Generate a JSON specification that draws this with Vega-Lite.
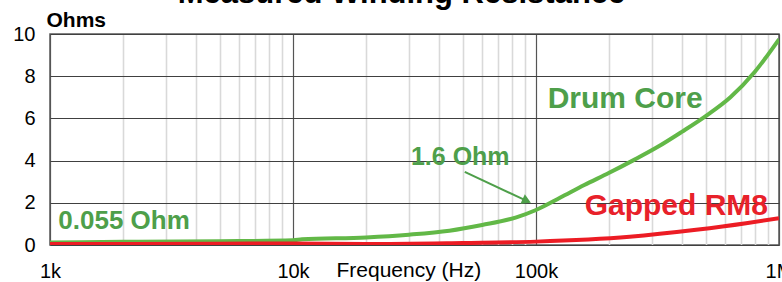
{
  "$schema": "https://vega.github.io/schema/vega-lite/v6.json",
  "width": 729,
  "height": 211,
  "autosize": {"type": "none"},
  "padding": {"left": 50, "top": 34, "right": 3, "bottom": 37},
  "background": "white",
  "config": {"view": {"stroke": "#595959", "strokeWidth": 1.5}, "font": "Liberation Sans"},
  "title": {"text": "Measured Winding Resistance", "fontSize": 31, "fontWeight": "bold", "font": "Liberation Sans", "color": "black", "anchor": "middle", "frame": "group", "offset": 0, "baseline": "alphabetic", "dx": -13, "dy": 25},
  "datasets": {
    "curves": [
      {"series": "Drum Core", "freq": 1000, "ohms": 0.12},
      {"series": "Drum Core", "freq": 2000, "ohms": 0.15},
      {"series": "Drum Core", "freq": 5000, "ohms": 0.18},
      {"series": "Drum Core", "freq": 10000, "ohms": 0.22},
      {"series": "Drum Core", "freq": 10900, "ohms": 0.27},
      {"series": "Drum Core", "freq": 20000, "ohms": 0.36},
      {"series": "Drum Core", "freq": 30000, "ohms": 0.49},
      {"series": "Drum Core", "freq": 44000, "ohms": 0.68},
      {"series": "Drum Core", "freq": 60000, "ohms": 0.95},
      {"series": "Drum Core", "freq": 83000, "ohms": 1.31},
      {"series": "Drum Core", "freq": 100000, "ohms": 1.66},
      {"series": "Drum Core", "freq": 126000, "ohms": 2.25},
      {"series": "Drum Core", "freq": 158000, "ohms": 2.84},
      {"series": "Drum Core", "freq": 200000, "ohms": 3.42},
      {"series": "Drum Core", "freq": 251000, "ohms": 4.01},
      {"series": "Drum Core", "freq": 316000, "ohms": 4.64},
      {"series": "Drum Core", "freq": 398000, "ohms": 5.36},
      {"series": "Drum Core", "freq": 501000, "ohms": 6.12},
      {"series": "Drum Core", "freq": 631000, "ohms": 7.0},
      {"series": "Drum Core", "freq": 794000, "ohms": 8.2},
      {"series": "Drum Core", "freq": 1000000, "ohms": 9.75},
      {"series": "Gapped RM8", "freq": 1000, "ohms": 0.05},
      {"series": "Gapped RM8", "freq": 5000, "ohms": 0.06},
      {"series": "Gapped RM8", "freq": 10000, "ohms": 0.07},
      {"series": "Gapped RM8", "freq": 20000, "ohms": 0.05},
      {"series": "Gapped RM8", "freq": 50000, "ohms": 0.1},
      {"series": "Gapped RM8", "freq": 100000, "ohms": 0.16},
      {"series": "Gapped RM8", "freq": 243000, "ohms": 0.39},
      {"series": "Gapped RM8", "freq": 456000, "ohms": 0.72},
      {"series": "Gapped RM8", "freq": 732000, "ohms": 1.03},
      {"series": "Gapped RM8", "freq": 1000000, "ohms": 1.27}
    ],
    "notes": [
      {"label": "Drum Core", "freq": 232800, "ohms": 6.48},
      {"label": "Gapped RM8", "freq": 378000, "ohms": 1.42},
      {"label": "0.055 Ohm", "freq": 1082, "ohms": 0.77},
      {"label": "1.6 Ohm", "freq": 48800, "ohms": 3.79}
    ],
    "arrow": [{"freq": 50900, "ohms": 3.47, "freq2": 91600, "ohms2": 2.09}],
    "arrowhead": [{"freq": 91600, "ohms": 2.09}]
  },
  "encoding": {
    "x": {
      "field": "freq", "type": "quantitative",
      "scale": {"type": "log", "domain": [1000, 1000000], "nice": false},
      "axis": {
        "values": [1000, 2000, 3000, 4000, 5000, 6000, 7000, 8000, 9000, 10000, 20000, 30000, 40000, 50000, 60000, 70000, 80000, 90000, 100000, 200000, 300000, 400000, 500000, 600000, 700000, 800000, 900000, 1000000],
        "labelExpr": "datum.value==1000?'1k':datum.value==10000?'10k':datum.value==100000?'100k':datum.value==1000000?'1M':''",
        "grid": true,
        "gridColor": {"condition": {"test": "indexof([1000,10000,100000,1000000], datum.value) >= 0", "value": "#555555"}, "value": "#d9d9d9"},
        "gridWidth": {"condition": {"test": "indexof([1000,10000,100000,1000000], datum.value) >= 0", "value": 1.2}, "value": 1.6},
        "ticks": false, "tickSize": 0, "domain": false,
        "labelFontSize": 20, "labelPadding": 16, "labelColor": "black", "labelFlush": false, "labelOverlap": false,
        "title": "Frequency (Hz)", "titleFontSize": 21, "titleFontWeight": "normal", "titleColor": "black",
        "titleX": 286, "titleY": 31.7, "titleAlign": "left", "titleBaseline": "alphabetic"
      }
    },
    "y": {
      "field": "ohms", "type": "quantitative",
      "scale": {"domain": [0, 10], "nice": false},
      "axis": {
        "values": [0, 2, 4, 6, 8, 10],
        "grid": true, "gridColor": "#404040", "gridWidth": 1.2,
        "ticks": false, "tickSize": 0, "domain": false,
        "labelFontSize": 20, "labelPadding": 15, "labelColor": "black",
        "title": "Ohms", "titleAngle": 0, "titleFontSize": 21, "titleFontWeight": "bold", "titleColor": "black",
        "titleX": -4, "titleY": -8, "titleAlign": "left", "titleBaseline": "alphabetic"
      }
    }
  },
  "layer": [
    {
      "data": {"name": "curves"},
      "mark": {"type": "line", "strokeWidth": 4, "interpolate": "monotone", "clip": true},
      "encoding": {
        "color": {"field": "series", "type": "nominal", "scale": {"domain": ["Drum Core", "Gapped RM8"], "range": ["#62b847", "#ec1c24"]}, "legend": null}
      }
    },
    {
      "data": {"name": "notes"},
      "transform": [{"filter": "datum.label == 'Drum Core'"}],
      "mark": {"type": "text", "text": "Drum Core", "fontSize": 30, "fontWeight": "bold", "color": "#4e9f4a", "align": "center", "baseline": "alphabetic"}
    },
    {
      "data": {"name": "notes"},
      "transform": [{"filter": "datum.label == 'Gapped RM8'"}],
      "mark": {"type": "text", "text": "Gapped RM8", "fontSize": 30, "fontWeight": "bold", "color": "#e8212a", "align": "center", "baseline": "alphabetic"}
    },
    {
      "data": {"name": "notes"},
      "transform": [{"filter": "datum.label == '0.055 Ohm'"}],
      "mark": {"type": "text", "text": "0.055 Ohm", "fontSize": 26, "fontWeight": "bold", "color": "#4e9f4a", "align": "left", "baseline": "alphabetic"}
    },
    {
      "data": {"name": "notes"},
      "transform": [{"filter": "datum.label == '1.6 Ohm'"}],
      "mark": {"type": "text", "text": "1.6 Ohm", "fontSize": 25, "fontWeight": "bold", "color": "#4e9f4a", "align": "center", "baseline": "alphabetic"}
    },
    {
      "data": {"name": "arrow"},
      "mark": {"type": "rule", "color": "#4e9f4a", "strokeWidth": 2},
      "encoding": {"x2": {"field": "freq2"}, "y2": {"field": "ohms2"}}
    },
    {
      "data": {"name": "arrowhead"},
      "mark": {"type": "point", "shape": "triangle-right", "filled": true, "opacity": 1, "color": "#4e9f4a", "size": 110, "angle": 25}
    }
  ]
}
